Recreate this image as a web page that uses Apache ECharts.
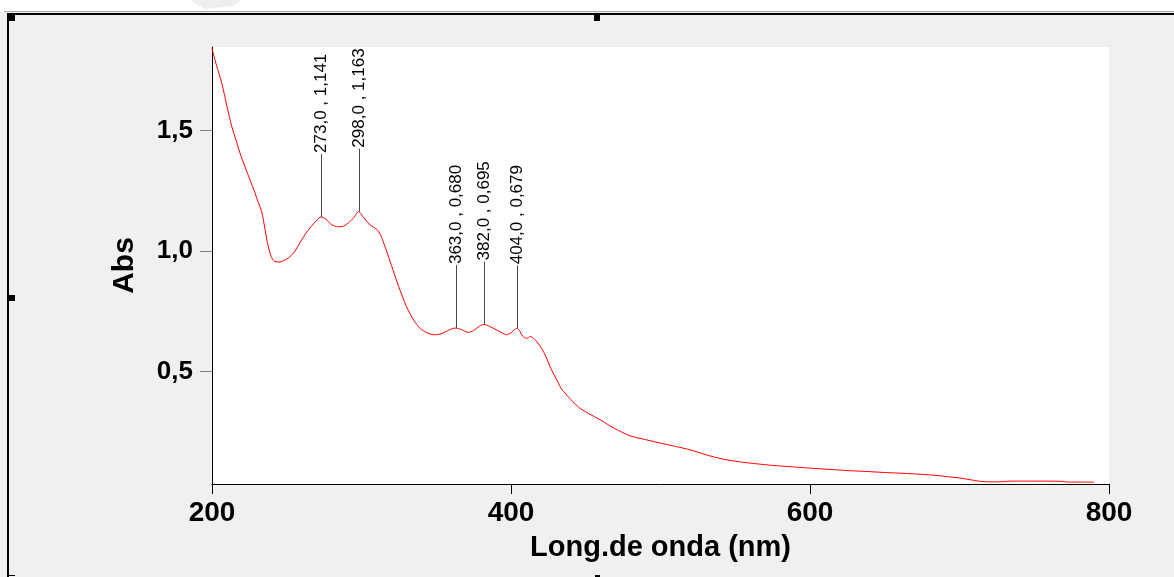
<!DOCTYPE html>
<html>
<head>
<meta charset="utf-8">
<script src="https://cdn.jsdelivr.net/npm/echarts@6/dist/echarts.min.js"></script>
<style>
html,body{margin:0;padding:0;background:#f0f0f0;}
#chart{width:1174px;height:577px;}
</style>
</head>
<body>
<div id="chart"></div>
<script>
// Wavelength (nm)
const wavelengths = [
  200, 203, 206.5, 210, 213.2, 216, 218.7, 222, 225.4, 228.8, 231, 233.2, 235.5, 237, 238.8, 240.5,
  242.1, 245.5, 248, 251, 255, 260, 263, 266.5, 270, 273, 276, 280, 284.5, 288, 292, 295, 298,
  301, 305, 308, 311, 313.5, 317, 321, 325, 330, 335, 339, 344, 349, 353, 357, 360, 363, 367,
  371.5, 375, 379, 382, 386, 390, 394, 397, 400, 402, 404, 406, 408, 410.5, 413, 415.5, 418,
  420.5, 423.5, 426, 429, 431.7, 434, 436.2, 440, 446, 452, 459.5, 466, 472, 479.6, 490, 499.7,
  510, 519.7, 530, 542, 553, 564, 575, 584, 595, 607, 617, 627, 638, 649, 660, 669, 680, 687,
  694, 700, 707, 714, 720, 727, 734, 750, 769, 772, 790
];
// Absorbance
const absorbance = [
  1.840, 1.770, 1.697, 1.600, 1.517, 1.460, 1.406, 1.350, 1.295, 1.240, 1.200, 1.164, 1.088, 1.035, 0.991, 0.965,
  0.956, 0.954, 0.960, 0.970, 0.995, 1.046, 1.075, 1.102, 1.127, 1.141, 1.133, 1.109, 1.100, 1.103, 1.120, 1.140, 1.163,
  1.142, 1.112, 1.098, 1.085, 1.055, 0.995, 0.922, 0.850, 0.770, 0.712, 0.680, 0.660, 0.652, 0.656, 0.667, 0.676, 0.680, 0.673,
  0.662, 0.670, 0.688, 0.695, 0.686, 0.673, 0.660, 0.652, 0.660, 0.672, 0.679, 0.665, 0.645, 0.637, 0.645, 0.635, 0.618,
  0.595, 0.560, 0.521, 0.484, 0.452, 0.425, 0.410, 0.383, 0.348, 0.325, 0.300, 0.275, 0.255, 0.233, 0.217, 0.203,
  0.189, 0.175, 0.155, 0.136, 0.125, 0.117, 0.110, 0.106, 0.101, 0.096, 0.092, 0.088, 0.085, 0.081, 0.078, 0.075, 0.071, 0.067,
  0.062, 0.058, 0.051, 0.044, 0.042, 0.042, 0.045, 0.045, 0.044, 0.041, 0.041
];
// Peak annotations
const peakX = [273.0, 298.0, 363.0, 382.0, 404.0];
const peakY = [1.141, 1.163, 0.680, 0.695, 0.679];
const peakLabels = ['273,0 , 1,141', '298,0 , 1,163', '363,0 , 0,680', '382,0 , 0,695', '404,0 , 0,679'];
// Tick labels
const xTicks = [200, 400, 600, 800];
const yTicks = [0.5, 1.0, 1.5];

const FONT = '"Liberation Sans", Arial, sans-serif';

const curve = wavelengths.map((w, i) => [w, absorbance[i]]);
const peaks = peakX.map((x, i) => [x, peakY[i]]);

const chart = echarts.init(document.getElementById('chart'), null, {renderer: 'canvas'});

const option = {
  animation: false,
  backgroundColor: '#f0f0f0',
  grid: {
    left: 212, right: 65, top: 47, bottom: 93,
    show: true, backgroundColor: '#ffffff', borderWidth: 0
  },
  xAxis: {
    type: 'value',
    min: xTicks[0], max: xTicks[xTicks.length - 1], interval: 200,
    name: 'Long.de onda (nm)',
    nameLocation: 'middle',
    nameGap: 49,
    nameTextStyle: {fontFamily: FONT, fontWeight: 'bold', fontSize: 29, color: '#000'},
    axisLine: {show: true, onZero: false, lineStyle: {color: '#000', width: 1}},
    axisTick: {show: true, length: 10, lineStyle: {color: '#000'}},
    axisLabel: {
      margin: 15, fontFamily: FONT, fontWeight: 'bold', fontSize: 28, color: '#000',
      customValues: xTicks
    },
    splitLine: {show: false}
  },
  yAxis: {
    type: 'value',
    min: 0.033, max: 1.846,
    name: 'Abs',
    nameLocation: 'middle',
    nameRotate: 90,
    nameGap: 72,
    nameTextStyle: {fontFamily: FONT, fontWeight: 'bold', fontSize: 30, color: '#000'},
    axisLine: {show: true, onZero: false, lineStyle: {color: '#000', width: 1}},
    axisTick: {show: true, length: 12, lineStyle: {color: '#808080'}, customValues: yTicks},
    axisLabel: {
      margin: 19, fontFamily: FONT, fontWeight: 'bold', fontSize: 26, color: '#000',
      customValues: yTicks,
      formatter: v => v.toFixed(1).replace('.', ',')
    },
    splitLine: {show: false}
  },
  series: [
    {
      type: 'line',
      data: curve,
      showSymbol: false,
      smooth: 0.3,
      lineStyle: {color: '#ff0000', width: 1},
      z: 2
    },
    {
      type: 'custom',
      data: peaks,
      clip: false,
      z: 3,
      renderItem: function (params, api) {
        const p = api.coord([api.value(0), api.value(1)]);
        const len = 63;
        return {
          type: 'group',
          children: [
            {
              type: 'line',
              shape: {x1: Math.round(p[0]) + 0.5, y1: p[1], x2: Math.round(p[0]) + 0.5, y2: p[1] - len},
              style: {stroke: '#4a4a4a', lineWidth: 1}
            },
            {
              type: 'text',
              x: Math.round(p[0]) + 0.5,
              y: p[1] - len - 1,
              rotation: Math.PI / 2,
              style: {
                text: peakLabels[params.dataIndex],
                font: '17px ' + FONT,
                fill: '#000',
                align: 'left',
                verticalAlign: 'middle'
              }
            }
          ]
        };
      }
    }
  ],
  graphic: [
    {type: 'rect', shape: {x: 0, y: 0, width: 1174, height: 11}, style: {fill: '#ffffff'}, z: 10},
    {type: 'polygon', shape: {points: [[190, 0], [242, 0], [232, 6], [205, 9]]},
      style: {fill: '#eeeeee'}, z: 10},
    {type: 'rect', shape: {x: 4, y: 11, width: 1170, height: 1}, style: {fill: '#a8a8a8'}, z: 11},
    {type: 'rect', shape: {x: 7, y: 13, width: 1167, height: 2}, style: {fill: '#000000'}, z: 11},
    {type: 'rect', shape: {x: 7, y: 13, width: 2, height: 564}, style: {fill: '#000000'}, z: 11},
    {type: 'rect', shape: {x: 9, y: 15, width: 6, height: 6}, style: {fill: '#000000'}, z: 11},
    {type: 'rect', shape: {x: 594, y: 15, width: 6, height: 6}, style: {fill: '#000000'}, z: 11},
    {type: 'rect', shape: {x: 9, y: 295, width: 6, height: 6}, style: {fill: '#000000'}, z: 11},
    {type: 'rect', shape: {x: 9, y: 575, width: 6, height: 1}, style: {fill: '#000000'}, z: 11},
    {type: 'rect', shape: {x: 595, y: 575, width: 5, height: 2}, style: {fill: '#000000'}, z: 11}
  ]
};
chart.setOption(option);
</script>
</body>
</html>
